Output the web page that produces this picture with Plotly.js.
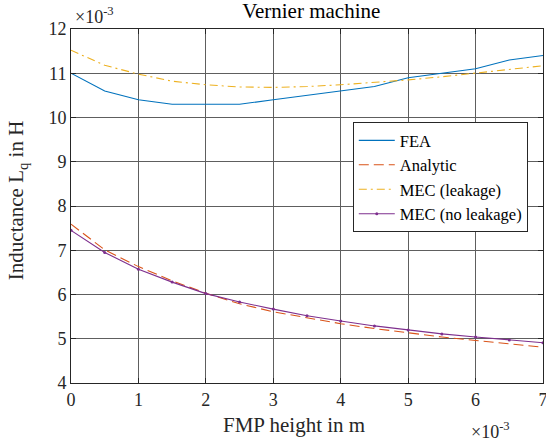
<!DOCTYPE html>
<html>
<head>
<meta charset="utf-8">
<script src="https://cdn.plot.ly/plotly-3.0.1.min.js"></script>
<style>html,body{margin:0;padding:0;background:#fff;}#chart{width:546px;height:445px;}</style>
</head>
<body>
<div id="chart"></div>
<script>
// x in units of 1e-3 m, y in units of 1e-3 H
const fmpHeight = [0, 0.5, 1, 1.5, 2, 2.5, 3, 3.5, 4, 4.5, 5, 5.5, 6, 6.5, 7];
const feaLq = [11.0, 10.6, 10.4, 10.3, 10.3, 10.3, 10.4, 10.5, 10.6, 10.7, 10.9, 11.0, 11.1, 11.3, 11.4];
const analyticLq = [7.59, 7.01, 6.63, 6.31, 6.03, 5.79, 5.61, 5.47, 5.34, 5.23, 5.13, 5.04, 4.96, 4.88, 4.81];
const mecLeakLq = [11.52, 11.18, 10.98, 10.82, 10.74, 10.69, 10.68, 10.70, 10.74, 10.79, 10.85, 10.92, 11.0, 11.08, 11.17];
const mecNoLeakLq = [7.45, 6.95, 6.57, 6.28, 6.02, 5.83, 5.67, 5.52, 5.40, 5.29, 5.20, 5.11, 5.04, 4.97, 4.91];
const xTicks = [0, 1, 2, 3, 4, 5, 6, 7];
const yTicks = [4, 5, 6, 7, 8, 9, 10, 11, 12];

const font = "Liberation Serif";
const traces = [
  {x: fmpHeight, y: feaLq, name: "FEA", mode: "lines", line: {color: "#0072BD", width: 1.1}},
  {x: fmpHeight, y: analyticLq, name: "Analytic", mode: "lines", line: {color: "#D95319", width: 1.1, dash: "10px,5px"}},
  {x: fmpHeight, y: mecLeakLq, name: "MEC (leakage)", mode: "lines", line: {color: "#EDB120", width: 1.1, dash: "8px,4px,2px,4px"}},
  {x: fmpHeight, y: mecNoLeakLq, name: "MEC (no leakage)", mode: "lines+markers", line: {color: "#7E2F8E", width: 1.1}, marker: {size: 3, color: "#7E2F8E"}}
];
const axisCommon = {
  showline: true, mirror: "allticks", linecolor: "#262626", linewidth: 1,
  ticks: "inside", ticklen: 5, tickcolor: "#262626",
  showgrid: true, gridcolor: "#5e5e5e", gridwidth: 1, zeroline: false,
  ticklabeloverflow: "allow",
  tickfont: {family: font, size: 18, color: "#262626"}
};
const layout = {
  width: 546, height: 445,
  margin: {l: 71, r: 3, t: 29, b: 62},
  paper_bgcolor: "#fff", plot_bgcolor: "#fff",
  font: {family: font, color: "#262626"},
  title: {text: "Vernier machine", font: {family: font, size: 21, color: "#000"}, x: 0.57, xanchor: "center", y: 0.992, yanchor: "top"},
  xaxis: Object.assign({}, axisCommon, {range: [0, 7], tickvals: xTicks, ticktext: xTicks.map(String)}),
  yaxis: Object.assign({}, axisCommon, {range: [4, 12], tickvals: yTicks, ticktext: yTicks.map(String)}),
  showlegend: true,
  legend: {x: 0.597, y: 0.737, xanchor: "left", yanchor: "top", bgcolor: "#fff", bordercolor: "#262626", borderwidth: 1,
    font: {family: font, size: 16.5, color: "#000"}, tracegroupgap: 0, itemwidth: 36},
  annotations: [
    {xref: "paper", yref: "paper", x: 0.004, y: 1.0, xanchor: "left", yanchor: "bottom", showarrow: false,
     text: "×10<sup>-3</sup>", font: {family: font, size: 18, color: "#262626"}},
    {xref: "paper", yref: "paper", x: 0.934, y: -0.172, xanchor: "right", yanchor: "bottom", showarrow: false,
     text: "×10<sup>-3</sup>", font: {family: font, size: 18, color: "#262626"}},
    {xref: "paper", yref: "paper", x: 0.472, y: -0.119, xanchor: "center", yanchor: "middle", showarrow: false,
     text: "FMP height in m", font: {family: font, size: 21, color: "#262626"}},
    {xref: "paper", yref: "paper", x: -0.114, y: 0.517, xanchor: "center", yanchor: "middle", showarrow: false, textangle: -90,
     text: "Inductance L<sub>q</sub> in H", font: {family: font, size: 21, color: "#262626"}}
  ]
};
Plotly.newPlot("chart", traces, layout, {displayModeBar: false, staticPlot: true});
</script>
</body>
</html>
